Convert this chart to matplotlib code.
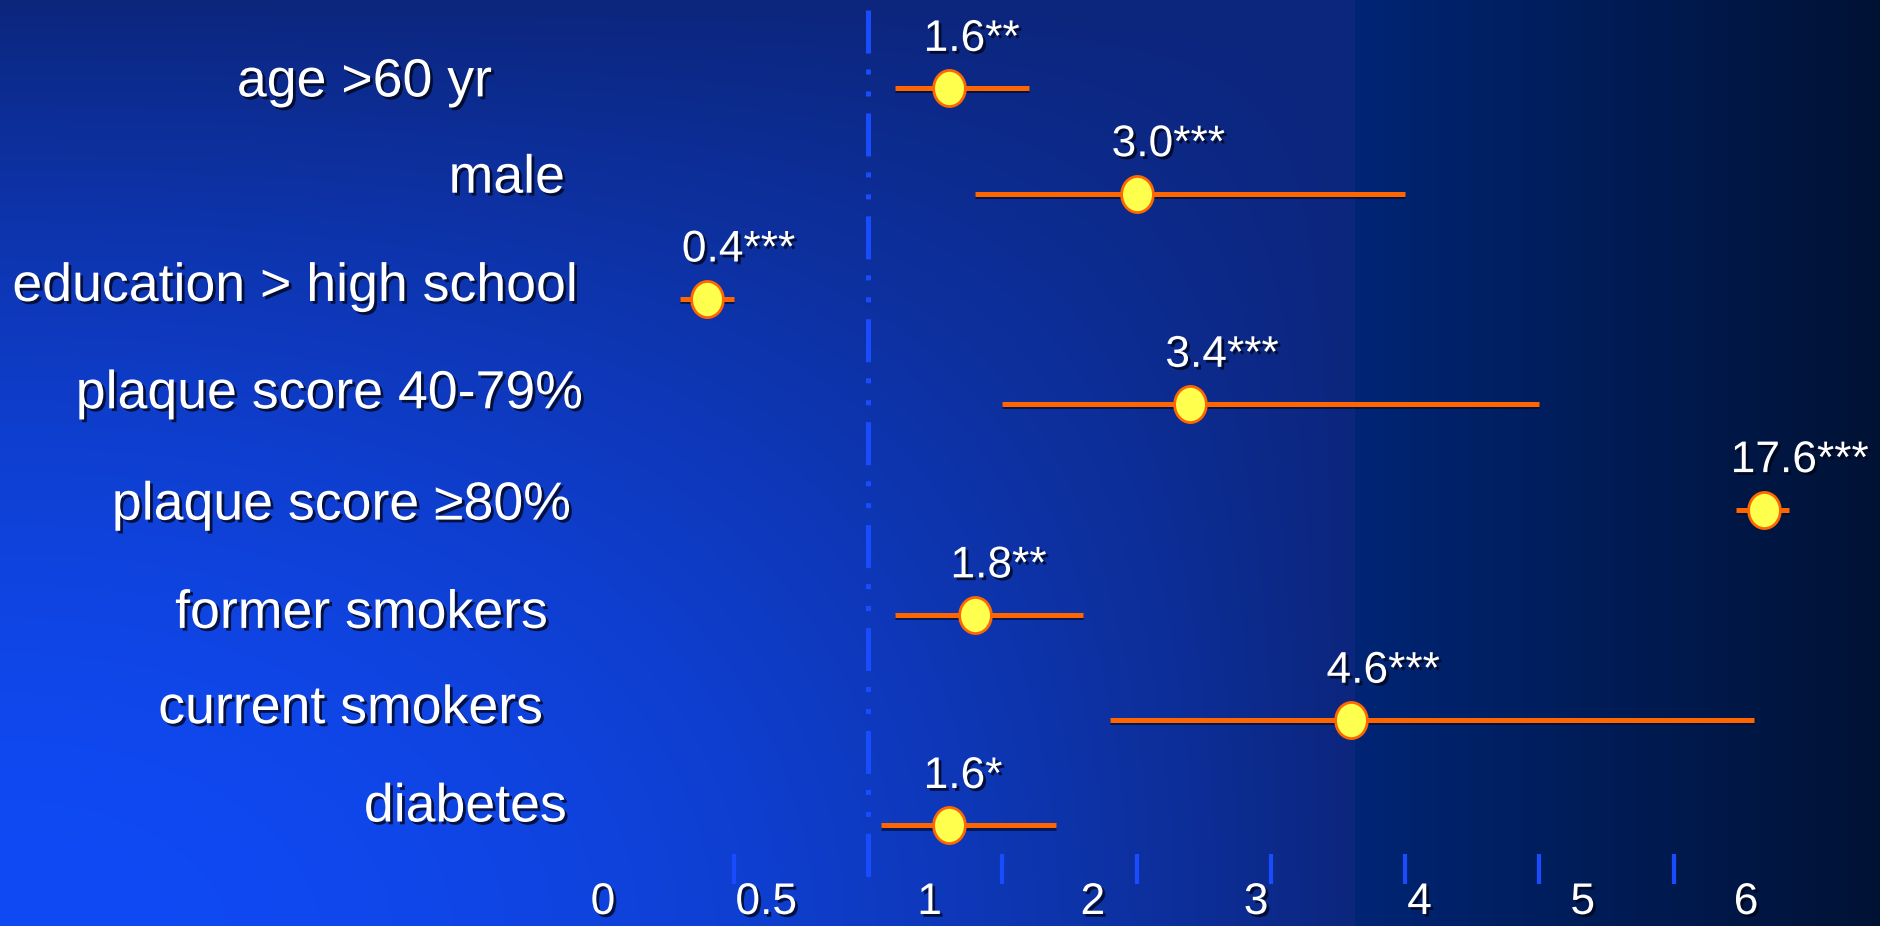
import numpy as np
import matplotlib.pyplot as plt
import matplotlib.patheffects as pe
from matplotlib import font_manager
from matplotlib.path import Path
from matplotlib.transforms import Affine2D

plt.rcParams["lines.scale_dashes"] = False

# odds ratios with 95% CI, top row first
factors = ["age >60 yr", "male", "education > high school", "plaque score 40-79%",
           "plaque score \u226580%", "former smokers", "current smokers", "diabetes"]
odds_ratio = [1.6, 3.0, 0.4, 3.4, 17.6, 1.8, 4.6, 1.6]
ci_low = [1.2, 1.8, 0.3, 2.0, 14.1, 1.2, 2.8, 1.1]
ci_high = [2.2, 5.0, 0.5, 6.0, 20.7, 2.6, 7.6, 2.4]
stars = ["**", "***", "***", "***", "***", "**", "***", "*"]

tick_values = [0.5, 2, 3, 4, 5, 6, 7]
tick_labels = ["0", "0.5", "1", "2", "3", "4", "5", "6"]

W, H = 1880, 926
ROW0, ROW_STEP = 88.4, 105.3          # px from top to first row, px between rows
ONE_X, UNIT = 868, 134.3              # px of OR = 1, px per unit above 1
LABEL_RIGHT = [492, 565, 578, 583, 571, 548, 543, 567]
LABEL_DROP = [8, -1, 2, 4, 10, 13, 3, -4]   # row label baseline below its row, px

installed = {f.name for f in font_manager.fontManager.ttflist}
FONT = "Liberation Sans Narrow" if "Liberation Sans Narrow" in installed else "Liberation Sans"
SIZE = 1.0 if FONT == "Liberation Sans Narrow" else 0.84
plt.rcParams["font.family"] = [FONT, "DejaVu Sans"]

AXIS_BLUE = "#1a4cff"
ORANGE = "#ff6600"
shadow = [pe.withSimplePatchShadow(offset=(2, -2), shadow_rgbFace="#00061c", alpha=0.8)]
bar_shadow = [pe.SimpleLineShadow(offset=(0, -1.5), shadow_color="#000a30", alpha=0.7), pe.Normal()]


def background():
    y, x = np.mgrid[0:H, 0:W].astype(float)
    split = 1355
    ty = (1 - y / H) ** 1.8
    tx = np.clip(x / split, 0, 1) ** 2
    t = 1 - (1 - ty) * (1 - tx)
    bright = np.array([16, 74, 245]) / 255
    dark = np.array([12, 38, 125]) / 255
    img = bright + (dark - bright) * t[..., None]
    s = np.clip((x - split) / (W - split), 0, 1)[..., None]
    left_navy = np.array([0, 37, 117]) / 255
    right_navy = np.array([0, 18, 52]) / 255
    navy = left_navy + (right_navy - left_navy) * s
    img = np.where((x >= split)[..., None], navy, img)
    return img


def fwd(v):
    v = np.asarray(v, dtype=float)
    return np.where(v < 1, 2 * v - 1, v)


def inv(p):
    p = np.asarray(p, dtype=float)
    return np.where(p < 1, (p + 1) / 2, p)


fig = plt.figure(figsize=(W / 100, H / 100), dpi=100)
bg = fig.add_axes([0, 0, 1, 1])
bg.imshow(background(), aspect="auto", extent=(0, 1, 0, 1))
bg.set_axis_off()

ylim = ((H - ROW0) / ROW_STEP, -ROW0 / ROW_STEP)

ax = fig.add_axes([0, 0, 1, 1])
ax.patch.set_alpha(0)
ax.set_xscale("function", functions=(fwd, inv))
ax.set_xlim(inv(1 - ONE_X / UNIT), inv(1 + (W - ONE_X) / UNIT))
ax.set_ylim(*ylim)
ax.set_axis_off()

# off-scale estimate goes on a short broken-axis segment at the right
brk = fig.add_axes([1720 / W, 0, 100 / W, 1])
brk.patch.set_alpha(0)
brk.set_xlim(12.1, 24.6)
brk.set_ylim(*ylim)
brk.set_axis_off()

# reference line at OR = 1 and the axis ticks
ax.plot([1, 1], [1 - 10 / H, 1 - 881 / H], transform=ax.get_xaxis_transform(),
        color=AXIS_BLUE, lw=3.6, ls=(0, (31, 11.5, 3.6, 12.2, 3.6, 12.2)))
ax.vlines(tick_values, 1 - 884 / H, 1 - 854 / H, transform=ax.get_xaxis_transform(),
          color=AXIS_BLUE, lw=3)

ell = Path.unit_circle().transformed(Affine2D().scale(0.88, 1))
for i, (name, orv, lo, hi, st) in enumerate(zip(factors, odds_ratio, ci_low, ci_high, stars)):
    off_scale = orv > 10
    target = brk if off_scale else ax
    target.plot([lo, hi], [i, i], color=ORANGE, lw=3.6, solid_capstyle="butt",
                path_effects=bar_shadow, clip_on=False)
    target.plot([orv], [i], ls="none", marker=ell, ms=26, mfc="#ffff4d", mec=ORANGE,
                mew=2, clip_on=False)
    target.annotate(f"{orv:.1f}{st}", (orv, i), xytext=(-24 if off_scale else -18, 27),
                    textcoords="offset points", ha="left", va="baseline",
                    fontsize=38 * SIZE, color="white", path_effects=shadow,
                    annotation_clip=False)
    ax.annotate(name, (LABEL_RIGHT[i] / W, i), xycoords=ax.get_yaxis_transform(),
                xytext=(0, -LABEL_DROP[i] * 0.72), textcoords="offset points",
                ha="right", va="baseline", fontsize=46 * SIZE, color="white",
                path_effects=shadow)

# bottom scale labels
lab = fig.add_axes([0, 0, 1, 1])
lab.patch.set_alpha(0)
lab.set_xlim(-603 / 163.3, (W - 603) / 163.3)
lab.set_axis_off()
for k, t in enumerate(tick_labels):
    lab.text(k, 1 - 914 / H, t, ha="center", va="baseline", fontsize=38 * SIZE,
             color="white", path_effects=shadow, transform=lab.get_xaxis_transform())

fig.savefig("out.png", dpi=100)
